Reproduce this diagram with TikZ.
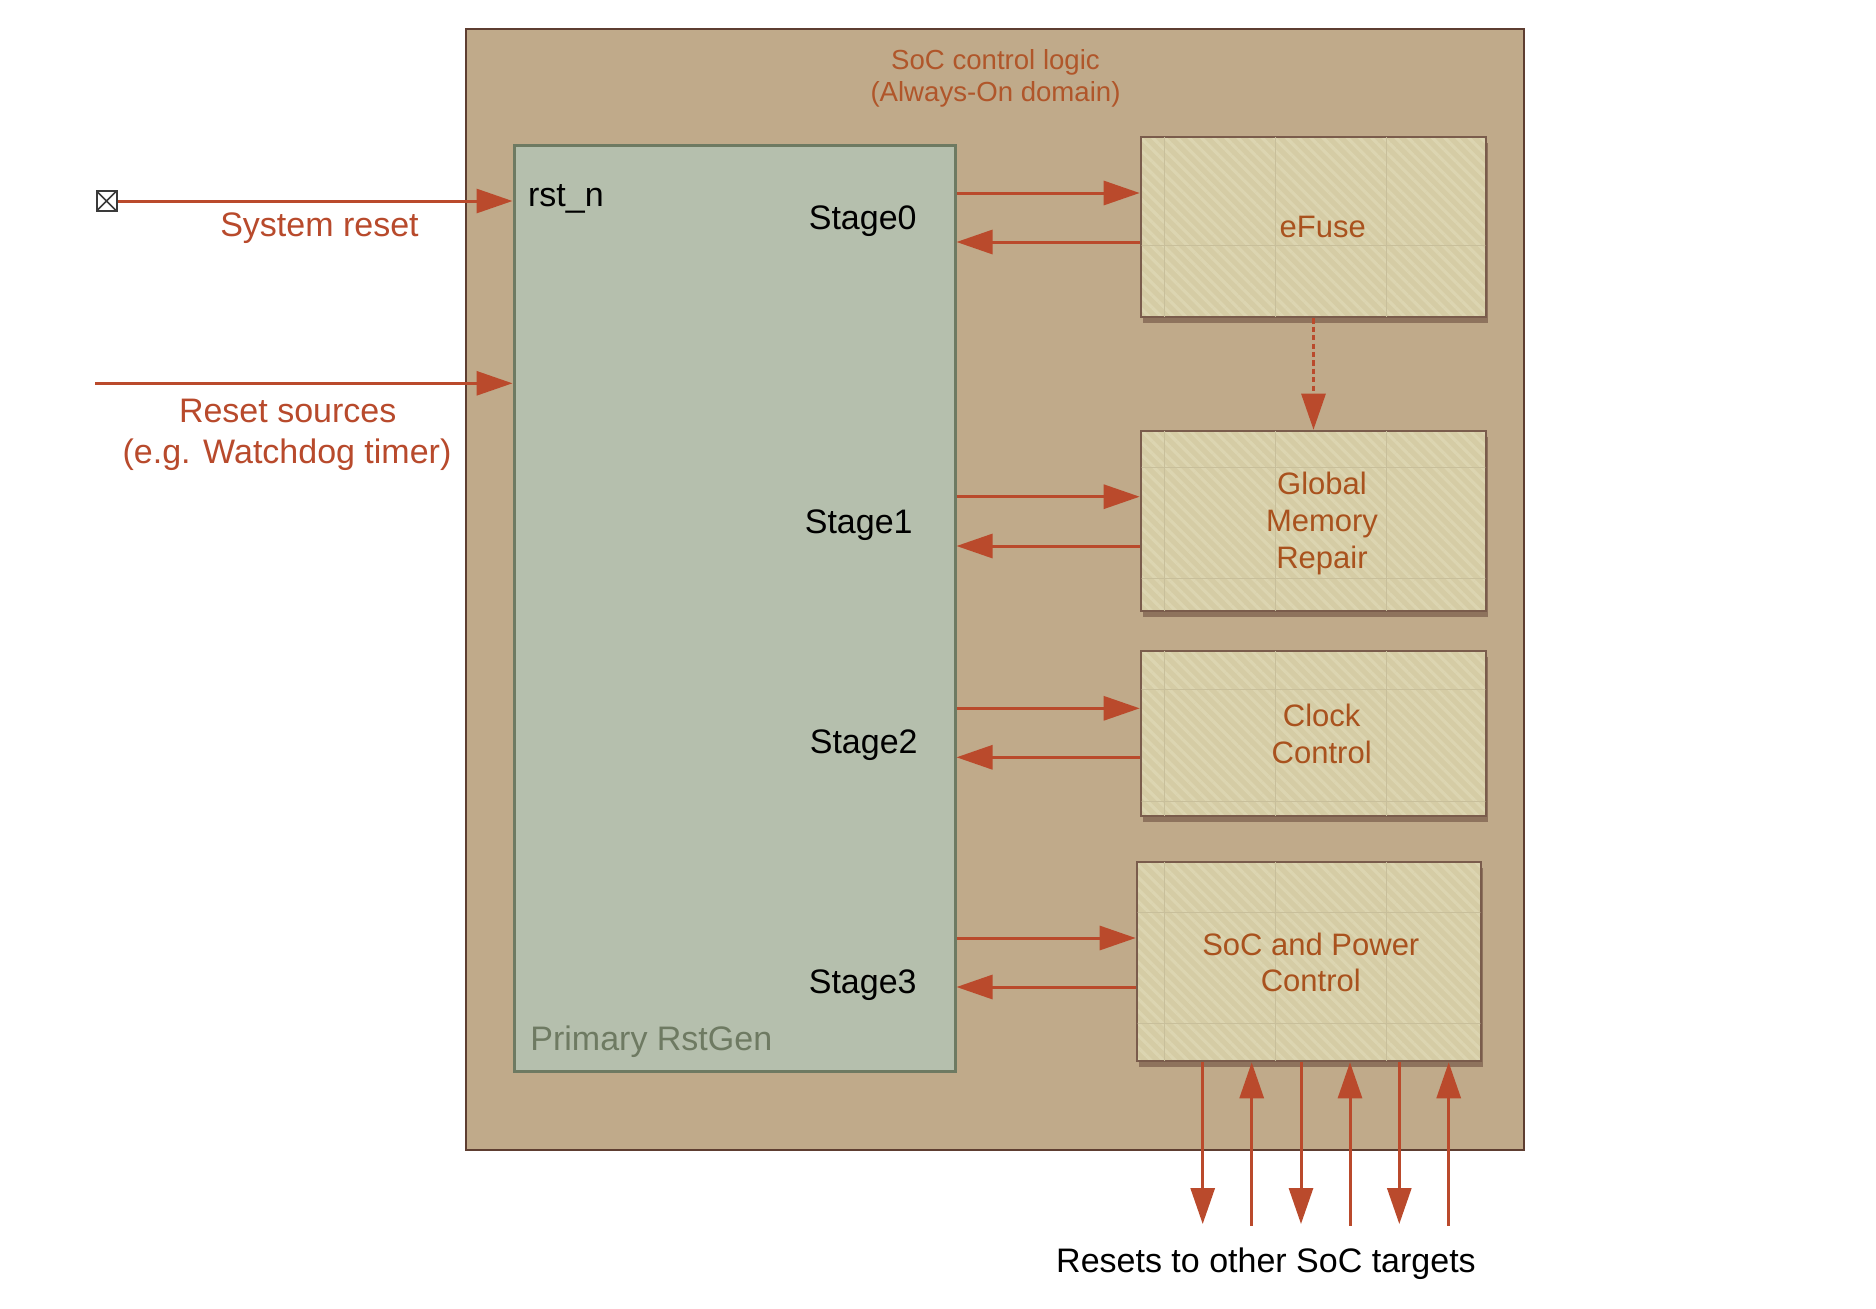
\documentclass[tikz,border=0pt]{standalone}
\usepackage{fontspec}
\setmainfont{Liberation Sans}
\usetikzlibrary{arrows.meta,fit,shadows,patterns.meta}
\definecolor{arrowc}{HTML}{BA4A2C}
\definecolor{labelc}{HTML}{B84A2C}
\definecolor{boxtxt}{HTML}{A9521E}
\definecolor{titlec}{HTML}{B0562A}
\definecolor{socfill}{HTML}{C0AA8A}
\definecolor{socdraw}{HTML}{5E3E31}
\definecolor{rstfill}{HTML}{B5BFAD}
\definecolor{rstdraw}{HTML}{6E7A62}
\definecolor{blkfill}{HTML}{D5CCA5}
\definecolor{blkstripe}{HTML}{DCD5B1}
\definecolor{blkdraw}{HTML}{7A5C4C}
\definecolor{gridc}{HTML}{C8BF9B}
\definecolor{symc}{HTML}{3A3A3A}
\newcommand\fsBig{\fontsize{17}{20}\selectfont}
\newcommand\fsTitle{\fontsize{13.8}{16}\selectfont}
\newcommand\fsBox{\fontsize{15.5}{18}\selectfont}
\begin{document}
\begin{tikzpicture}[x=0.5pt,y=-0.5pt,
  socbox/.style={draw=socdraw, line width=1pt, fill=socfill, inner sep=0pt},
  rstbox/.style={draw=rstdraw, line width=1.5pt, fill=rstfill, inner sep=0pt},
  blkbox/.style={draw=blkdraw, line width=1.3pt, fill=blkfill, inner sep=0pt,
    drop shadow={shadow xshift=1.2pt, shadow yshift=-2.8pt, opacity=0.5, fill=socdraw},
    postaction={draw=none, pattern={Lines[angle=-45,distance=4.3pt,line width=1.6pt]}, pattern color=blkstripe},
    postaction={draw=blkdraw, line width=1.3pt}},
  gridline/.style={draw=gridc, line width=0.5pt},
  sig/.style={draw=arrowc, line width=1.5pt, -{Triangle[length=18pt,width=12pt]}},
  dsig/.style={sig, dash pattern=on 2.6pt off 1.6pt},
  titletxt/.style={font=\fsTitle, text=titlec, inner sep=0pt, anchor=base},
  blktxt/.style={font=\fsBox, text=boxtxt, inner sep=0pt, anchor=base},
  stagetxt/.style={font=\fsBig, text=black, inner sep=0pt, anchor=base east},
  redtxt/.style={font=\fsBig, text=labelc, inner sep=0pt, anchor=base},
  xbox/.style={draw=symc, line width=1pt, fill=white, minimum size=10pt, inner sep=0pt,
    path picture={\draw[symc, line width=0.8pt]
      (path picture bounding box.north west) -- (path picture bounding box.south east)
      (path picture bounding box.north east) -- (path picture bounding box.south west);}}
]
\fill[white] (0,0) rectangle (1876,1308);
\useasboundingbox (0,0) rectangle (1876,1308);

% outer domain
\node[socbox, fit={(466,29)(1524,1150)}] (soc) {};
\node[titletxt] (title1) at (995.5,69.3) {SoC control logic};
\node[titletxt] (title2) at (995.5,101.7) {(Always-On domain)};

% primary reset generator
\node[rstbox, fit={(514,145)(955,1071)}] (rstgen) {};
\node[font=\fsBig, inner sep=0pt, anchor=base west] (rstn) at (527.7,206) {rst\_n};
\node[stagetxt] (st0) at (917,229) {Stage0};
\node[stagetxt] (st1) at (913,533.3) {Stage1};
\node[stagetxt] (st2) at (918,753.3) {Stage2};
\node[stagetxt] (st3) at (917,993) {Stage3};
\node[font=\fsBig, text=rstdraw, inner sep=0pt, anchor=base west] (rstname) at (530,1050) {Primary RstGen};

% blocks
\node[blkbox, fit={(1141,137)(1486,317)}] (efuse) {};
\node[blkbox, fit={(1141,431)(1486,611)}] (gmr) {};
\node[blkbox, fit={(1141,651)(1486,816)}] (clk) {};
\node[blkbox, fit={(1137,862)(1481,1061)}] (spc) {};
\foreach \b in {efuse,gmr,clk,spc}{
  \begin{scope}
    \clip ([shift={(2,2)}]\b.north west) rectangle ([shift={(-2,-2)}]\b.south east);
    \foreach \gx in {1164.5,1275.7,1386.9} \draw[gridline] (\gx,0) -- (\gx,1308);
    \foreach \gy in {245,356.2,467.4,578.6,689.8,801,912.2,1023.4} \draw[gridline] (0,\gy) -- (1876,\gy);
  \end{scope}
}
\node[blktxt] (efuseL) at (1322.7,237) {eFuse};
\node[blktxt] (gmrL1) at (1322,494) {Global};
\node[blktxt] (gmrL2) at (1322,531.7) {Memory};
\node[blktxt] (gmrL3) at (1322,568.3) {Repair};
\node[blktxt] (clkL1) at (1321.7,726) {Clock};
\node[blktxt] (clkL2) at (1321.7,763.3) {Control};
\node[blktxt] (spcL1) at (1310.8,955) {SoC and Power};
\node[blktxt] (spcL2) at (1310.8,991.7) {Control};

% inputs
\node[xbox] (sysin) at (106.5,201) {};
\draw[sig] (sysin.east) -- (rstgen.west |- sysin.east);
\node[redtxt] (sysL) at (319.5,236.7) {System reset};
\coordinate (rsrc) at (95,383.3);
\draw[sig] (rsrc) -- (rstgen.west |- rsrc);
\node[redtxt] (rsL1) at (287.7,422.7) {Reset sources};
\node[redtxt] (rsL2) at (287,463) {(e.g. Watchdog timer)};

% stage handshakes
\foreach \b/\yf/\yb in {efuse/193/242, gmr/496.7/546, clk/708.3/757.3, spc/938/987}{
  \coordinate (f-\b) at (0,\yf);
  \coordinate (r-\b) at (0,\yb);
  \draw[sig] (rstgen.east |- f-\b) -- (\b.west |- f-\b);
  \draw[sig] (\b.west |- r-\b) -- (rstgen.east |- r-\b);
}

% eFuse -> memory repair
\draw[dsig] (efuse.south) -- (gmr.north);

% outputs to other targets
\foreach \x/\i in {1202.7/1,1301/3,1399.3/5}{
  \coordinate (o\i) at (\x,1224);
  \draw[sig] (spc.south -| o\i) -- (o\i);
}
\foreach \x/\i in {1251.7/2,1350/4,1448.7/6}{
  \coordinate (o\i) at (\x,1225.7);
  \draw[sig] (o\i) -- (spc.south -| o\i);
}
\node[font=\fsBig, text=black, inner sep=0pt, anchor=base] (outL) at (1266,1272.7) {Resets to other SoC targets};
\end{tikzpicture}
\end{document}
